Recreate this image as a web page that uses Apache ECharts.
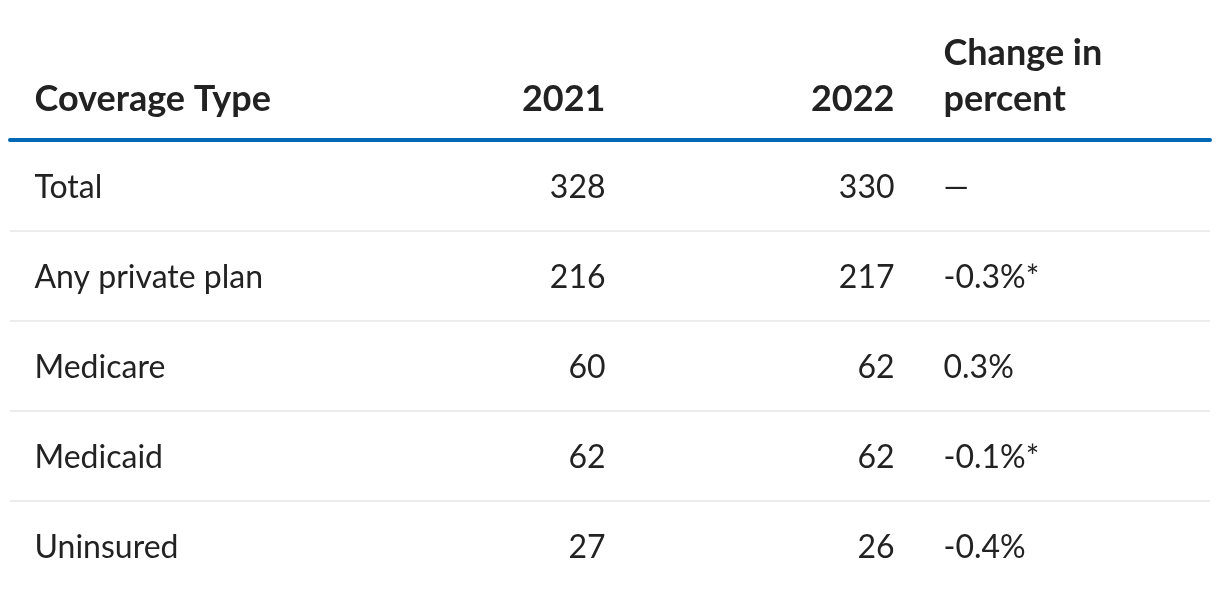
<!DOCTYPE html>
<html>
<head>
<meta charset="utf-8">
<style>
  html, body { margin: 0; padding: 0; background: #ffffff; }
  #chart { width: 1220px; height: 600px; }
</style>
<script src="https://cdn.jsdelivr.net/npm/echarts@6/dist/echarts.min.js"></script>
</head>
<body>
<div id="chart"></div>
<script>
// ---- Data ----
const headers = ['Coverage Type', '2021', '2022', 'Change in\npercent'];
const rowLabels = ['Total', 'Any private plan', 'Medicare', 'Medicaid', 'Uninsured'];
const values2021 = [328, 216, 60, 62, 27];
const values2022 = [330, 217, 62, 62, 26];
const changePct = ['—', '-0.3%*', '0.3%', '-0.1%*', '-0.4%'];

// ---- Layout (column anchors on the x value axis, 0..1200) ----
const columns = [
  { x: 25,  align: 'left'  },
  { x: 596, align: 'right' },
  { x: 885, align: 'right' },
  { x: 934, align: 'left'  }
];
const bodyColumns = [
  rowLabels,
  values2021.map(String),
  values2022.map(String),
  changePct
];

const FONT = 'Lato, "Noto Sans", sans-serif';
const TEXT = '#222222';

const series = [];

// header row
headers.forEach((h, c) => {
  series.push({
    type: 'scatter',
    xAxisIndex: 0, yAxisIndex: 0,
    symbolSize: 1,
    itemStyle: { color: 'rgba(0,0,0,0)', opacity: 1 },
    silent: true,
    data: [[columns[c].x, 'header', h]],
    label: {
      show: true,
      position: [0, 0],
      offset: [0, 2],
      align: columns[c].align,
      verticalAlign: 'bottom',
      formatter: p => p.value[2],
      fontFamily: FONT,
      fontWeight: 'bold',
      fontSize: 36,
      lineHeight: 46,
      color: TEXT,
      opacity: 1
    }
  });
});

// body rows
bodyColumns.forEach((col, c) => {
  series.push({
    type: 'scatter',
    xAxisIndex: 1, yAxisIndex: 1,
    symbolSize: 1,
    itemStyle: { color: 'rgba(0,0,0,0)', opacity: 1 },
    silent: true,
    data: col.map((t, i) => [columns[c].x, rowLabels[i], t]),
    label: {
      show: true,
      position: [0, 0],
      offset: [0, 2],
      align: columns[c].align,
      verticalAlign: 'middle',
      formatter: p => p.value[2],
      fontFamily: FONT,
      fontSize: 32,
      color: TEXT,
      opacity: 1
    }
  });
});

const hiddenX = (extra) => Object.assign({
  type: 'value', min: 0, max: 1200,
  axisLabel: { show: false }, axisTick: { show: false },
  splitLine: { show: false }, axisLine: { show: false }
}, extra || {});

const option = {
  animation: false,
  backgroundColor: '#ffffff',
  grid: [
    { left: 10, right: 10, top: 0, height: 241 },
    { left: 10, right: 10, top: 141, bottom: 9 }
  ],
  xAxis: [
    hiddenX({ gridIndex: 0 }),
    hiddenX({ gridIndex: 1, position: 'top', offset: 1.5,
      axisLine: { show: true, onZero: false, lineStyle: { color: '#0068b4', width: 4 } } })
  ],
  yAxis: [
    { type: 'category', gridIndex: 0, data: ['header'], show: false },
    { type: 'category', gridIndex: 1, data: rowLabels, inverse: true,
      axisLine: { show: false }, axisTick: { show: false }, axisLabel: { show: false },
      splitLine: { show: true, showMinLine: false, showMaxLine: false,
        lineStyle: { color: '#ececec', width: 2 } } }
  ],
  series: series
};

const chart = echarts.init(document.getElementById('chart'), null, { renderer: 'canvas' });
chart.setOption(option);
</script>
</body>
</html>
